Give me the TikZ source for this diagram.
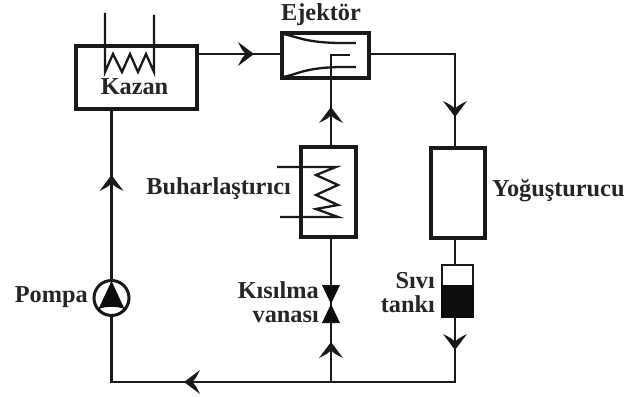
\documentclass[tikz,border=0pt]{standalone}
\usepackage{fontspec}
\setmainfont{Liberation Serif}
\begin{document}
\begin{tikzpicture}[x=1pt,y=-1pt,
  box/.style={draw=black!90,line width=3.2pt,fill=white,inner sep=0pt,minimum width=#1},
  pipe/.style={draw=black!90,line width=2.5pt},
  coil/.style={draw=black!90,line width=2.3pt,line join=miter},
  lab/.style={font=\fontsize{24.3}{24}\selectfont\bfseries,text=black!85,inner sep=0pt},
  flowhead/.pic={\fill[black!90] (1,0) -- (-15,-12) .. controls (-12,-6) and (-10,-2) .. (-7,0) .. controls (-10,2) and (-12,6) .. (-15,12) -- cycle;}
]
\useasboundingbox (0,0) rectangle (626,396);
\fill[white] (0,0) rectangle (626,396);
% components
\node[box=121pt,minimum height=63pt] (kazan) at (136.5,77.5) {};
\node[box=87pt,minimum height=45pt] (ejektor) at (325.5,55.5) {};
\node[box=55pt,minimum height=90pt] (evap) at (328.5,192) {};
\node[box=54pt,minimum height=90pt] (cond) at (458,193) {};
\node[draw=black!90,line width=2.8pt,fill=white,inner sep=0pt,minimum width=31pt,minimum height=52pt] (tank) at (457.5,291) {};
\node[draw=black!90,line width=3pt,fill=white,circle,inner sep=0pt,minimum size=35pt] (pump) at (111.5,298) {};
\coordinate (valve) at (331,304);
% junctions
\coordinate (kout) at (kazan.east |- 0,54);
\coordinate (ein) at (ejektor.west |- 0,54);
\coordinate (eout) at (ejektor.east |- 0,54);
\coordinate (c1) at (455,54);
\coordinate (cin) at (455,148);
\coordinate (cout) at (455,238);
\coordinate (tin) at (455,265);
\coordinate (tout) at (455,317);
\coordinate (c2) at (455,382);
\coordinate (b1) at (331,382);
\coordinate (b2) at (pump.south |- 0,382);
\coordinate (kin) at (pump.north |- 0,109);
\coordinate (einb) at (331,55);
\coordinate (einc) at (350,55);
% pipes
\draw[pipe] (kout) -- (ein);
\draw[pipe] (eout) -- (c1) -- (cin);
\draw[pipe] (cout) -- (tin);
\draw[pipe,line join=miter] (tout) -- (c2) -- (b2) -- (pump.south);
\draw[pipe] (pump.north) -- (kin);
\draw[pipe] (b1) -- (valve) -- (331,237);
\draw[pipe] (331,147) -- (einb) -- (einc);
% tank liquid
\fill[black!95] (tank.west |- 0,285) rectangle (tank.south east);
% kazan coil
\draw[coil] (105,13) -- (105,72) -- (113,54) -- (122,72) -- (130,54) -- (138,72) -- (146,54) -- (154,72) -- (154,15);
% ejector nozzle
\draw[coil] (283,34) .. controls (300,37) and (305,44) .. (356,43);
\draw[coil] (283,77) .. controls (300,74) and (305,66) .. (356,67);
% evaporator coil
\draw[coil] (277,167) -- (336,167) -- (316,175) -- (338,185) -- (316,195) -- (338,205) -- (316,209) -- (338,217) -- (280,217);
% valve
\fill[black!95] (322,285) -- (340,285) -- (322,323) -- (340,323) -- cycle;
% pump triangle
\fill[black!95] (111.5,281) -- (124.5,309) .. controls (116.5,306) and (106.5,306) .. (98.5,309) -- cycle;
\fill[black!95] (98.5,307) .. controls (104.5,318) and (118.5,318) .. (124.5,307) -- (124.5,311) .. controls (118.5,316) and (104.5,316) .. (98.5,311) -- cycle;
% arrowheads
\pic at (253,54) {flowhead};
\pic[rotate=-90] at (455,116) {flowhead};
\pic[rotate=90] at (331,108) {flowhead};
\pic[rotate=90] at (331,343) {flowhead};
\pic[rotate=-90] at (455,349) {flowhead};
\pic[rotate=180] at (185,382) {flowhead};
\pic[rotate=90] at (111.5,176) {flowhead};
% labels
\node[lab] (lkazan) at (134.5,87) {Kazan};
\node[lab] (lejektor) at (321,15) {Ejektör};
\node[lab,anchor=east] (lbuhar) at (291,189) {Buharlaştırıcı};
\node[lab,anchor=west] (lyog) at (492,191) {Yoğuşturucu};
\node[lab,anchor=east] (lpompa) at (88,297) {Pompa};
\node[lab,align=right,anchor=east] (lkis) at (319,302) {Kısılma\\vanası};
\node[lab,align=right,anchor=east] (lsivi) at (435,293) {Sıvı\\tankı};
\end{tikzpicture}
\end{document}
